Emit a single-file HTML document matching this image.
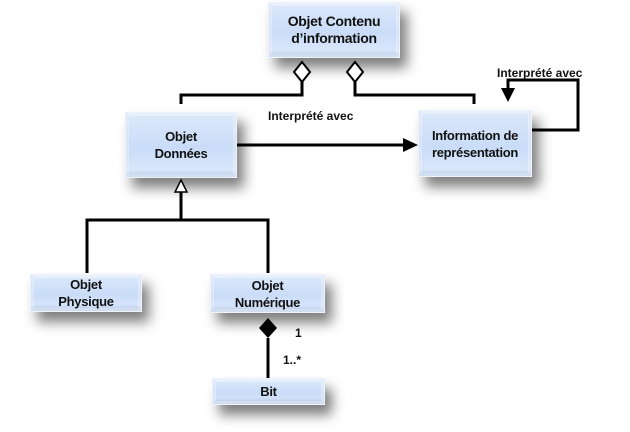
<!DOCTYPE html>
<html><head><meta charset="utf-8"><style>
body{margin:0;width:630px;height:432px;background:#fff;position:relative;overflow:hidden;font-family:"Liberation Sans",sans-serif;}
.b{position:absolute;box-sizing:border-box;background:linear-gradient(180deg,#dde9fb 0%,#c9dcf8 55%,#dfeafc 100%);border:1px solid #eef4fd;box-shadow:7px 10px 12px rgba(0,0,0,0.5), inset 0 0 0 3px rgba(255,255,255,0.35), inset 0 -4px 3px rgba(150,175,215,0.5);display:flex;align-items:center;justify-content:center;text-align:center;font-weight:bold;font-size:13px;line-height:17px;color:#111;letter-spacing:-0.3px;}
.t{position:absolute;font-weight:bold;font-size:12px;color:#111;white-space:nowrap;}
svg{position:absolute;left:0;top:0;}
</style></head><body>
<div class="b" style="left:268px;top:2px;width:132px;height:56px;font-size:14px;">Objet Contenu<br>d’information</div>
<div class="b" style="left:125px;top:112px;width:112px;height:66px;">Objet<br>Données</div>
<div class="b" style="left:418px;top:110px;width:114px;height:67px;">Information de<br>représentation</div>
<div class="b" style="left:30px;top:274px;width:112px;height:38px;">Objet<br>Physique</div>
<div class="b" style="left:210px;top:274px;width:115px;height:39px;">Objet<br>Numérique</div>
<div class="b" style="left:212px;top:378px;width:113px;height:27px;">Bit</div>
<svg width="630" height="432" viewBox="0 0 630 432">
<g fill="none" stroke="#000" stroke-width="3">
<polyline points="302,82 302,95 181,95 181,104"/>
<polyline points="355,82 355,95 474,95 474,104"/>
<polygon points="302,62 310,72 302,82 294,72" fill="#fff" stroke-width="2"/>
<polygon points="355,62 363,72 355,82 347,72" fill="#fff" stroke-width="2"/>
<line x1="237" y1="145" x2="405" y2="145"/>
<polyline points="532,130 578,130 578,80 508,80 508,92"/>
<line x1="181" y1="192" x2="181" y2="220"/>
<polyline points="87,273 87,220 268,220 268,273"/>
<line x1="268" y1="338" x2="268" y2="378"/>
</g>
<polygon points="403,138 418,145 403,152" fill="#000"/>
<polygon points="501,88 515,88 508,102" fill="#000"/>
<polygon points="181,180 187,192 175,192" fill="#fff" stroke="#000" stroke-width="1.5"/>
<polygon points="268,318 277,328 268,338 259,328" fill="#000"/>
</svg>
<div class="t" style="left:268px;top:109px;">Interprété avec</div>
<div class="t" style="left:497px;top:66px;">Interprété avec</div>
<div class="t" style="left:295px;top:326px;">1</div>
<div class="t" style="left:283px;top:353px;">1..*</div>
</body></html>
